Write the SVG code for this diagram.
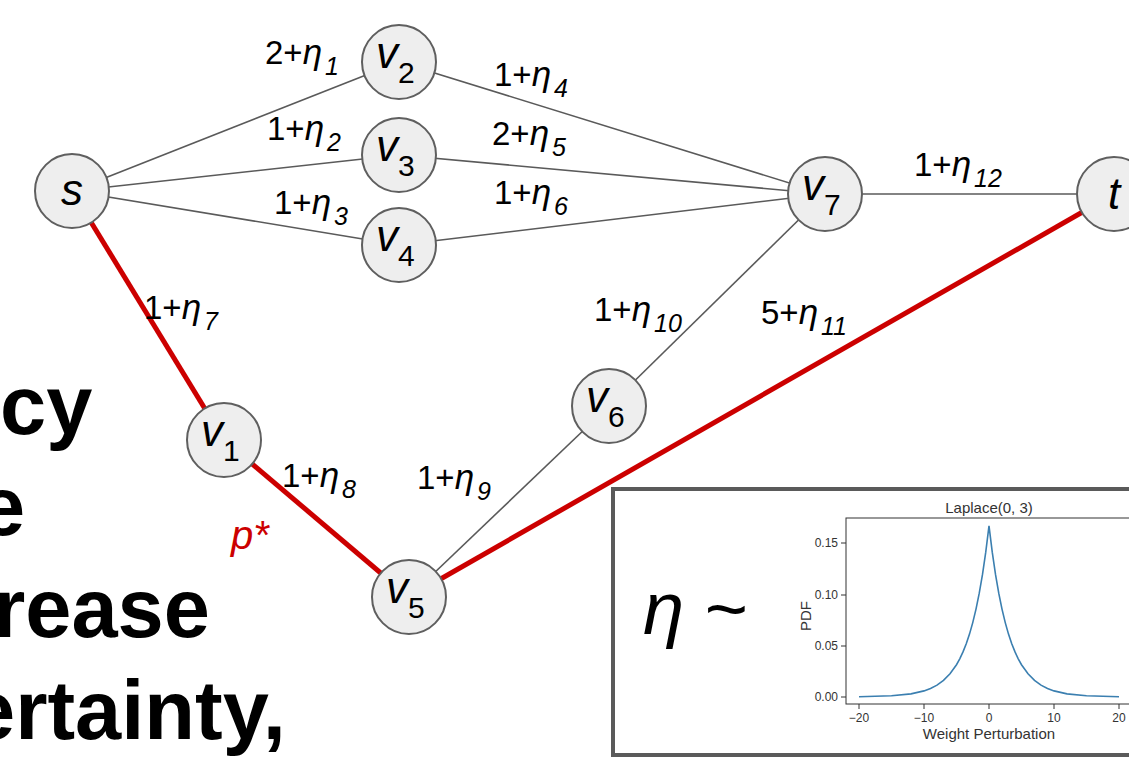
<svg xmlns="http://www.w3.org/2000/svg" width="1129" height="758" viewBox="0 0 1129 758">
  <style>
    .edge { stroke: #5a5a5a; stroke-width: 1.6; fill: none; }
    .path { stroke: #cc0000; stroke-width: 5; fill: none; }
    .node circle { fill: #eeeeee; stroke: #5f5f5f; stroke-width: 2; }
    .nl { font-family: "Liberation Sans", Arial, sans-serif; font-size: 44px; font-style: italic; fill: #000; }
    .ns { font-size: 30px; font-style: normal; }
    .el { font-family: "Liberation Sans", Arial, sans-serif; font-size: 33px; fill: #000; }
    .eta { font-style: italic; font-size: 35px; }
    .sub { font-size: 25px; font-style: italic; }
    .pstar { font-family: "Liberation Sans", Arial, sans-serif; font-size: 40px; font-style: italic; fill: #cc0000; }
    .big { font-family: "Liberation Sans", Arial, sans-serif; font-size: 83px; font-weight: bold; fill: #000; }
    .ax { font-family: "Liberation Sans", Arial, sans-serif; font-size: 12px; fill: #333; }
    .axl { font-family: "Liberation Sans", Arial, sans-serif; font-size: 15px; fill: #333; }
  </style>

  <rect width="1129" height="758" fill="#ffffff"/>

  <!-- bold caption lines, cut off at the left edge -->
  <g id="caption">
    <text class="big" x="0" y="434">cy</text>
    <text class="big" x="-21" y="535">e</text>
    <text class="big" x="-7" y="637">rease</text>
    <text class="big" x="-31" y="739">ertainty,</text>
  </g>

  <!-- connectors -->
  <g id="connectors">
    <line class="edge" x1="72" y1="191" x2="399" y2="62"/>
    <line class="edge" x1="72" y1="191" x2="399" y2="155"/>
    <line class="edge" x1="72" y1="191" x2="399" y2="245"/>
    <line class="edge" x1="399" y1="62" x2="825" y2="194"/>
    <line class="edge" x1="399" y1="155" x2="825" y2="194"/>
    <line class="edge" x1="399" y1="245" x2="825" y2="194"/>
    <line class="edge" x1="825" y1="194" x2="1114" y2="194"/>
    <line class="edge" x1="825" y1="194" x2="609" y2="406"/>
    <line class="edge" x1="609" y1="406" x2="409" y2="597"/>
    <line class="path" x1="72" y1="191" x2="224" y2="440"/>
    <line class="path" x1="224" y1="440" x2="409" y2="597"/>
    <line class="path" x1="409" y1="597" x2="1114" y2="194"/>
  </g>

  <!-- edge weights -->
  <g id="edge-labels">
    <text class="el" x="265" y="64">2+<tspan class="eta">η</tspan><tspan class="sub" dx="3" dy="11">1</tspan></text>
    <text class="el" x="267" y="140">1+<tspan class="eta">η</tspan><tspan class="sub" dx="3" dy="11">2</tspan></text>
    <text class="el" x="274" y="214">1+<tspan class="eta">η</tspan><tspan class="sub" dx="3" dy="11">3</tspan></text>
    <text class="el" x="494" y="86">1+<tspan class="eta">η</tspan><tspan class="sub" dx="3" dy="11">4</tspan></text>
    <text class="el" x="492" y="145">2+<tspan class="eta">η</tspan><tspan class="sub" dx="3" dy="11">5</tspan></text>
    <text class="el" x="494" y="204">1+<tspan class="eta">η</tspan><tspan class="sub" dx="3" dy="11">6</tspan></text>
    <text class="el" x="144" y="319">1+<tspan class="eta">η</tspan><tspan class="sub" dx="3" dy="11">7</tspan></text>
    <text class="el" x="282" y="487">1+<tspan class="eta">η</tspan><tspan class="sub" dx="3" dy="11">8</tspan></text>
    <text class="el" x="417" y="489">1+<tspan class="eta">η</tspan><tspan class="sub" dx="3" dy="11">9</tspan></text>
    <text class="el" x="594" y="321">1+<tspan class="eta">η</tspan><tspan class="sub" dx="3" dy="11">10</tspan></text>
    <text class="el" x="761" y="324">5+<tspan class="eta">η</tspan><tspan class="sub" dx="3" dy="11">11</tspan></text>
    <text class="el" x="914" y="176">1+<tspan class="eta">η</tspan><tspan class="sub" dx="3" dy="11">12</tspan></text>
    <text class="pstar" x="231" y="549">p*</text>
  </g>

  <!-- nodes -->
  <g id="node-s" class="node"><circle cx="72" cy="191" r="37"/><text class="nl" x="72" y="205" text-anchor="middle">s</text></g>
  <g id="node-v2" class="node"><circle cx="399" cy="62" r="37"/><text class="nl" x="376" y="68">v<tspan class="ns" dy="15">2</tspan></text></g>
  <g id="node-v3" class="node"><circle cx="399" cy="155" r="37"/><text class="nl" x="376" y="161">v<tspan class="ns" dy="15">3</tspan></text></g>
  <g id="node-v4" class="node"><circle cx="399" cy="245" r="37"/><text class="nl" x="376" y="251">v<tspan class="ns" dy="15">4</tspan></text></g>
  <g id="node-v7" class="node"><circle cx="825" cy="194" r="37"/><text class="nl" x="802" y="200">v<tspan class="ns" dy="15">7</tspan></text></g>
  <g id="node-t" class="node"><circle cx="1114" cy="194" r="37"/><text class="nl" x="1114" y="209" text-anchor="middle">t</text></g>
  <g id="node-v1" class="node"><circle cx="224" cy="440" r="37"/><text class="nl" x="201" y="446">v<tspan class="ns" dy="15">1</tspan></text></g>
  <g id="node-v6" class="node"><circle cx="609" cy="406" r="37"/><text class="nl" x="586" y="412">v<tspan class="ns" dy="15">6</tspan></text></g>
  <g id="node-v5" class="node"><circle cx="409" cy="597" r="37"/><text class="nl" x="386" y="603">v<tspan class="ns" dy="15">5</tspan></text></g>

  <!-- noise distribution panel -->
  <g id="noise-panel">
    <rect x="613" y="489" width="530" height="266" fill="#ffffff" stroke="#5a5a5a" stroke-width="4"/>
    <text x="643" y="634" font-family="Liberation Sans, Arial, sans-serif" font-size="74" fill="#000"><tspan font-style="italic">η</tspan> ~</text>

    <text class="axl" x="989" y="513" text-anchor="middle">Laplace(0, 3)</text>
    <rect x="846" y="518" width="300" height="186" fill="none" stroke="#333" stroke-width="1"/>
    <g stroke="#333" stroke-width="1">
      <line x1="841" y1="543" x2="846" y2="543"/>
      <line x1="841" y1="595" x2="846" y2="595"/>
      <line x1="841" y1="646" x2="846" y2="646"/>
      <line x1="841" y1="697" x2="846" y2="697"/>
      <line x1="859" y1="704" x2="859" y2="709"/>
      <line x1="924" y1="704" x2="924" y2="709"/>
      <line x1="989" y1="704" x2="989" y2="709"/>
      <line x1="1054" y1="704" x2="1054" y2="709"/>
      <line x1="1119" y1="704" x2="1119" y2="709"/>
    </g>
    <g class="ax" text-anchor="end">
      <text x="838" y="547">0.15</text>
      <text x="838" y="599">0.10</text>
      <text x="838" y="650">0.05</text>
      <text x="838" y="701">0.00</text>
    </g>
    <g class="ax" text-anchor="middle">
      <text x="859" y="722">−20</text>
      <text x="924" y="722">−10</text>
      <text x="989" y="722">0</text>
      <text x="1054" y="722">10</text>
      <text x="1119" y="722">20</text>
    </g>
    <text class="axl" x="989" y="739" text-anchor="middle">Weight Perturbation</text>
    <text class="axl" x="0" y="0" text-anchor="middle" transform="translate(811 616) rotate(-90)">PDF</text>
    <polyline fill="none" stroke="#3b7fb0" stroke-width="1.6" points="859,696.8 891.5,695.8 911,693.9 924,690.9 930.5,688.5 937,685.1 943.5,680.4 950,673.8 956.5,664.7 959.75,658.8 963,651.9 966.25,643.7 969.5,634.1 972.75,622.6 976,609.1 979.25,593.2 982.5,574.4 985.75,552.2 989,525.9 992.25,552.2 995.5,574.4 998.75,593.2 1002,609.1 1005.25,622.6 1008.5,634.1 1011.75,643.7 1015,651.9 1018.25,658.8 1021.5,664.7 1028,673.8 1034.5,680.4 1041,685.1 1047.5,688.5 1054,690.9 1067,693.9 1086.5,695.8 1119,696.8"/>
  </g>
</svg>
